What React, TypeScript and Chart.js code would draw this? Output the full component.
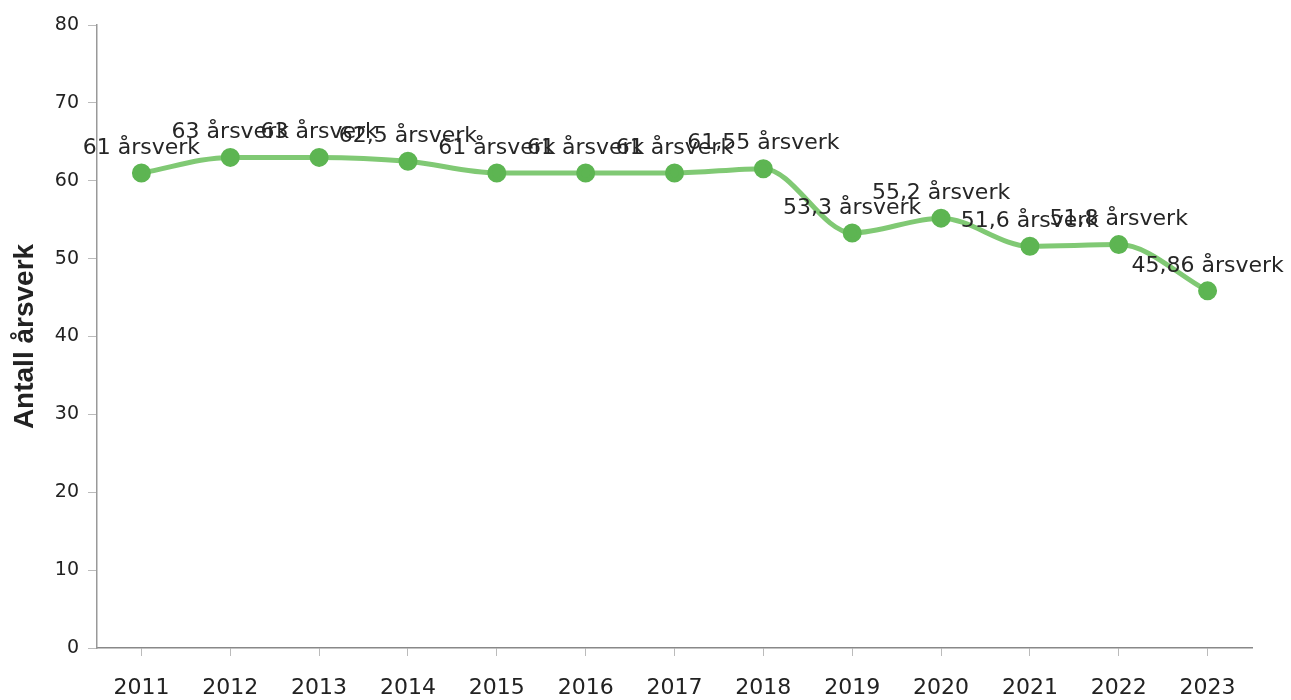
import React, { useEffect, useRef } from "react";
import { Chart, registerables } from "chart.js";

Chart.register(...registerables);

const years = ["2011", "2012", "2013", "2014", "2015", "2016", "2017", "2018", "2019", "2020", "2021", "2022", "2023"];
const arsverk = [61, 63, 63, 62.5, 61, 61, 61, 61.55, 53.3, 55.2, 51.6, 51.8, 45.86];
const yTicks = [0, 10, 20, 30, 40, 50, 60, 70, 80];
const unitLabel = "årsverk";
const yTitle = "Antall årsverk";

const pointLabelPlugin = {
  id: "pointLabels",
  afterDatasetsDraw(chart: any) {
    const ctx = chart.ctx;
    const meta = chart.getDatasetMeta(0);
    ctx.save();
    ctx.font = "22px 'DejaVu Sans'";
    ctx.fillStyle = "#262626";
    ctx.textAlign = "center";
    ctx.textBaseline = "middle";
    meta.data.forEach((pt: any, i: number) => {
      const v = chart.data.datasets[0].data[i];
      const txt = String(v).replace(".", ",") + " " + unitLabel;
      ctx.fillText(txt, pt.x, pt.y - 25);
    });
    ctx.restore();
  },
};

export default function App() {
  const ref = useRef<HTMLCanvasElement>(null);
  useEffect(() => {
    if (!ref.current) return;
    const chart = new Chart(ref.current, {
      type: "line",
      data: {
        labels: years,
        datasets: [
          {
            data: arsverk,
            borderColor: "#80c974",
            borderWidth: 5,
            backgroundColor: "#5db552",
            pointBackgroundColor: "#5db552",
            pointBorderColor: "#5db552",
            pointRadius: 7,
            cubicInterpolationMode: "monotone",
            fill: false,
          },
        ],
      },
      options: {
        animation: false,
        responsive: false,
        layout: { padding: { top: 25, right: 39, left: 0, bottom: 0 } },
        plugins: { legend: { display: false }, tooltip: { enabled: false } },
        scales: {
          x: {
            offset: true,
            afterFit: (s: any) => {
              s.height = 52;
            },
            grid: { drawOnChartArea: false, tickLength: 8, tickColor: "#bbb", offset: false },
            border: { color: "#888", width: 1.5 },
            ticks: { color: "#222", font: { family: "DejaVu Sans", size: 22 }, padding: 19, maxRotation: 0 },
          },
          y: {
            min: 0,
            max: 80,
            afterFit: (s: any) => {
              s.width = 97;
            },
            afterBuildTicks: (s: any) => {
              s.ticks = yTicks.map((v) => ({ value: v }));
            },
            grid: { drawOnChartArea: false, tickLength: 9, tickColor: "#bbb" },
            border: { color: "#999", width: 1.5 },
            ticks: { color: "#222", font: { family: "DejaVu Sans", size: 19 }, padding: 9 },
            title: {
              display: true,
              text: yTitle,
              color: "#222",
              font: { family: "Liberation Sans", size: 28, weight: "bold" },
              padding: { top: 8, bottom: 0 },
            },
          },
        },
      },
      plugins: [pointLabelPlugin],
    });
    return () => chart.destroy();
  }, []);
  return (
    <div style={{ position: "absolute", left: 0, top: 0, width: 1291, height: 700, background: "#fff" }}>
      <canvas ref={ref} width={1291} height={700} />
    </div>
  );
}
